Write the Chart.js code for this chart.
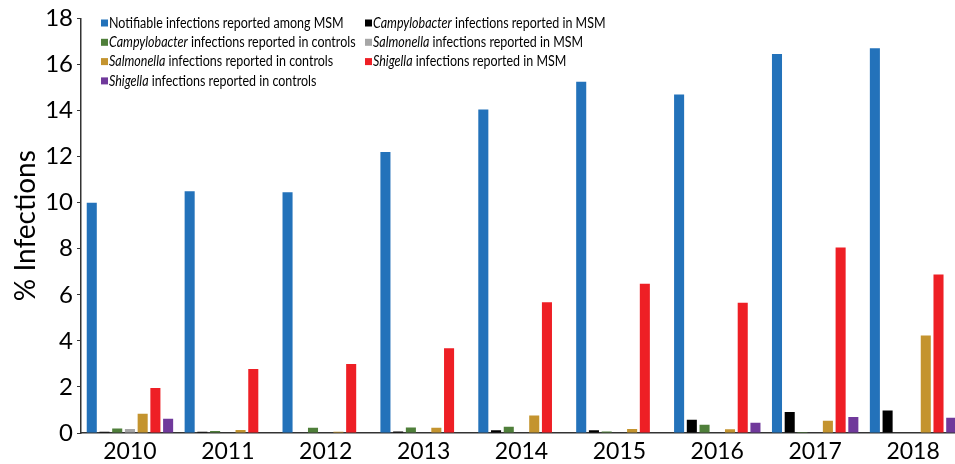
<!DOCTYPE html>
<html>
<head>
<meta charset="utf-8">
<script src="https://cdn.jsdelivr.net/npm/chart.js@4.4.1/dist/chart.umd.min.js"></script>
<style>
  body { margin: 0; overflow: hidden; background: #fff; }
  #wrap { width: 962px; height: 464px; }
</style>
</head>
<body>
<div id="wrap"><canvas id="myChart"></canvas></div>
<script>
// years on the x axis
const years = ["2010", "2011", "2012", "2013", "2014", "2015", "2016", "2017", "2018"];

// % infections
const notifiableMSM  = [10.0, 10.5, 10.45, 12.2, 14.05, 15.25, 14.7, 16.45, 16.7];
const campyMSM       = [0.05, 0.05, 0.02, 0.07, 0.12, 0.12, 0.58, 0.91, 0.98];
const campyControls  = [0.2, 0.09, 0.23, 0.24, 0.27, 0.07, 0.36, 0.04, 0];
const salmMSM        = [0.17, 0, 0, 0, 0, 0, 0, 0, 0];
const salmControls   = [0.84, 0.13, 0.05, 0.23, 0.76, 0.17, 0.16, 0.53, 4.23];
const shigMSM        = [1.95, 2.78, 3.0, 3.68, 5.68, 6.48, 5.65, 8.05, 6.88];
const shigControls   = [0.62, 0, 0, 0, 0, 0, 0.45, 0.7, 0.66];

const yTicks = [0, 2, 4, 6, 8, 10, 12, 14, 16, 18];

// legend drawn by hand so the genus names can be italic (*...*)
const mixedLegend = {
  id: 'mixedLegend',
  afterDraw(chart) {
    const ctx = chart.ctx;
    const squeeze = 0.86; // Calibri-ish narrow text
    ctx.save();
    ctx.textBaseline = 'middle';
    chart.data.datasets.forEach((ds, i) => {
      const col = i % 2, row = Math.floor(i / 2);
      const x = col ? 365 : 101;
      const y = 23 + row * 19.3;
      ctx.fillStyle = ds.backgroundColor;
      ctx.fillRect(x, y - 3.5, 7, 7);
      let tx = x + 8;
      ds.label.split('*').forEach((part, k) => {
        ctx.font = (k % 2 ? 'italic ' : '') + '14.5px Lato';
        ctx.fillStyle = '#000';
        ctx.save();
        ctx.translate(tx, y);
        ctx.scale(squeeze, 1);
        ctx.fillText(part, 0, 0);
        ctx.restore();
        tx += ctx.measureText(part).width * squeeze;
      });
    });
    ctx.restore();
  }
};

let charte = document.getElementById("myChart");
new Chart(charte, {
  type: 'bar',
  data: {
    labels: years,
    datasets: [
      { label: "Notifiable infections reported among MSM", data: notifiableMSM, backgroundColor: '#2372ba' },
      { label: "*Campylobacter* infections reported in MSM", data: campyMSM, backgroundColor: '#000000' },
      { label: "*Campylobacter* infections reported in controls", data: campyControls, backgroundColor: '#4f7f3a' },
      { label: "*Salmonella* infections reported in MSM", data: salmMSM, backgroundColor: '#a6a6a6' },
      { label: "*Salmonella* infections reported in controls", data: salmControls, backgroundColor: '#c4942f' },
      { label: "*Shigella* infections reported in MSM", data: shigMSM, backgroundColor: '#ee1f25' },
      { label: "*Shigella* infections reported in controls", data: shigControls, backgroundColor: '#70399b' }
    ]
  },
  options: {
    responsive: true,
    maintainAspectRatio: false,
    animation: false,
    datasets: { bar: { categoryPercentage: 0.91, barPercentage: 0.79 } },
    layout: { padding: { top: 4, left: 9, right: 0, bottom: 0 } },
    plugins: { legend: { display: false }, tooltip: { enabled: false } },
    scales: {
      x: {
        grid: { display: false },
        border: { display: true, color: '#333', width: 1.5 },
        ticks: { color: '#000', font: { family: 'Lato', size: 23 }, padding: -3 },
        afterFit(s) { s.height = 31; }
      },
      y: {
        min: 0, max: 18,
        afterBuildTicks(s) { s.ticks = yTicks.map(v => ({ value: v })); },
        grid: { drawOnChartArea: false, drawTicks: true, tickLength: 4, color: '#333' },
        border: { display: true, color: '#333', width: 1.5 },
        ticks: { color: '#000', font: { family: 'Lato', size: 24 }, padding: 4 },
        title: { display: true, text: '% Infections', color: '#000', font: { family: 'Lato', size: 28 }, padding: 0 },
        afterFit(s) { s.width = 72; }
      }
    }
  },
  plugins: [mixedLegend]
});
</script>
</body>
</html>
